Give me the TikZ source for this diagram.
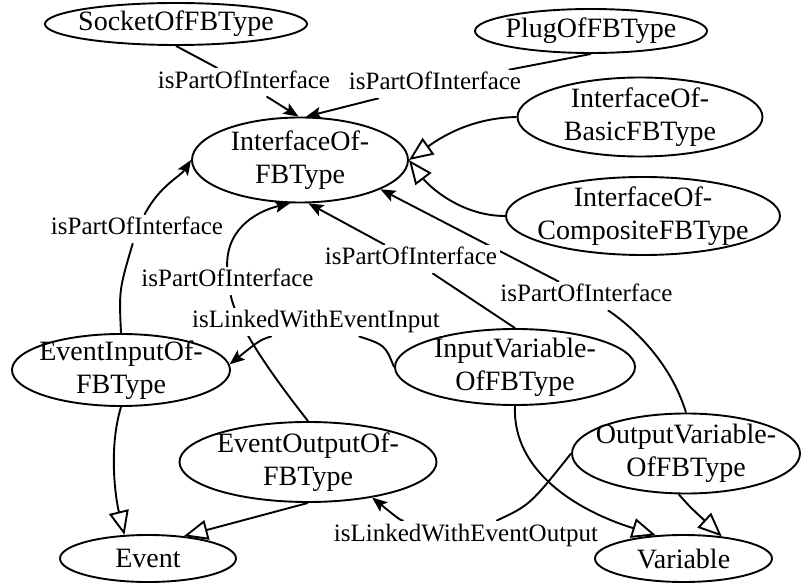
\documentclass[tikz,border=0pt]{standalone}
\usepackage{fontspec}
\setmainfont{Liberation Serif}
\usetikzlibrary{shapes.geometric,arrows.meta,backgrounds}

\begin{document}
\begin{tikzpicture}[x=1pt,y=1pt,
  cls/.style={ellipse, draw, line width=1.9pt, fill=white, inner sep=-20pt,
    align=center, font=\fontsize{28}{33}\selectfont},
  rel/.style={anchor=base, fill=white, inner sep=3pt, text height=17pt,
    text depth=5pt, font=\fontsize{25}{30}\selectfont},
  edge/.style={line width=1.9pt},
  assoc/.style={edge, -{Stealth[length=15pt,width=12pt,inset=3pt]}},
  isa/.style={edge, -{Triangle[length=24pt,width=20pt,fill=white]}},
]
\useasboundingbox (0,0) rectangle (804,-585);

% classes
\node[cls, minimum width=262pt, minimum height=42pt] (sock) at (176,-24) {SocketOfFBType};
\node[cls, minimum width=232pt, minimum height=44pt] (plug) at (591,-31) {PlugOfFBType};
\node[cls, minimum width=216pt, minimum height=85pt] (ifc) at (300,-160) {InterfaceOf-\\FBType};
\node[cls, minimum width=245pt, minimum height=79pt] (basic) at (640,-117) {InterfaceOf-\\BasicFBType};
\node[cls, minimum width=274pt, minimum height=78pt] (comp) at (643,-216) {InterfaceOf-\\CompositeFBType};
\node[cls, minimum width=218pt, minimum height=72pt] (evin) at (121,-370) {EventInputOf-\\FBType};
\node[cls, minimum width=257pt, minimum height=80pt] (evout) at (308,-462) {EventOutputOf-\\FBType};
\node[cls, minimum width=176pt, minimum height=47pt] (event) at (148,-558.5) {Event};
\node[cls, minimum width=240pt, minimum height=76pt] (invar) at (515,-367) {InputVariable-\\OfFBType};
\node[cls, minimum width=228pt, minimum height=80pt] (outvar) at (686,-453.5) {OutputVariable-\\OfFBType};
\node[cls, minimum width=177pt, minimum height=47pt] (var) at (683.5,-558.5) {Variable};

% relation labels
\node[rel] (l1) at (244,-88.3) {isPartOfInterface};
\node[rel] (l2) at (435,-90) {isPartOfInterface};
\node[rel] (l5) at (137,-235) {isPartOfInterface};
\node[rel] (l6) at (227.5,-287) {isPartOfInterface};
\node[rel] (l7) at (411,-265) {isPartOfInterface};
\node[rel] (l8) at (586.5,-302) {isPartOfInterface};
\node[rel] (l13) at (316,-328) {isLinkedWithEventInput};
\node[rel] (l14) at (466,-541) {isLinkedWithEventOutput};

\begin{pgfonlayer}{background}
% isPartOfInterface
\draw[edge] (sock.south) -- (l1);
\draw[assoc] (l1) -- (ifc.92);
\draw[edge] (plug.south) -- (l2);
\draw[assoc] (l2) -- (ifc.82);
\draw[edge] (evin.north) .. controls (119,-290) .. (l5);
\draw[assoc] (l5) .. controls (160,-185) and (180,-177) .. (ifc.west);
\draw[edge] (evout.north) .. controls (260,-360) and (236,-320) .. (l6);
\draw[assoc] (l6) .. controls (226,-225) and (262,-210) .. (ifc.-103);
\draw[edge] (invar.north) -- (l7);
\draw[assoc] (l7) -- (ifc.-79);
\draw[edge] (outvar.north) .. controls (670,-360) and (630,-325) .. (l8);
\draw[assoc] (l8) -- (ifc.-20);

% specialisations
\draw[isa] (basic.west) .. controls (470,-118) and (440,-138) .. (ifc.east);
\draw[isa] (comp.west) .. controls (460,-216) and (428,-185) .. (ifc.east);
\draw[isa] (evin.south) .. controls (108,-450) and (116,-500) .. (event.135);
\draw[isa] (evout.south) -- (event.32);
\draw[isa] (invar.south) .. controls (512,-470) and (575,-510) .. (var.140);
\draw[isa] (outvar.-100) .. controls (690,-507) .. (var.30);

% event links
\draw[edge] (invar.west) .. controls (385,-345) .. (l13);
\draw[assoc] (l13) .. controls (260,-340) .. (evin.3);
\draw[edge] (outvar.west) .. controls (530,-505) .. (l14);
\draw[assoc] (l14) .. controls (400,-520) .. (evout.-29);
\end{pgfonlayer}
\end{tikzpicture}
\end{document}
